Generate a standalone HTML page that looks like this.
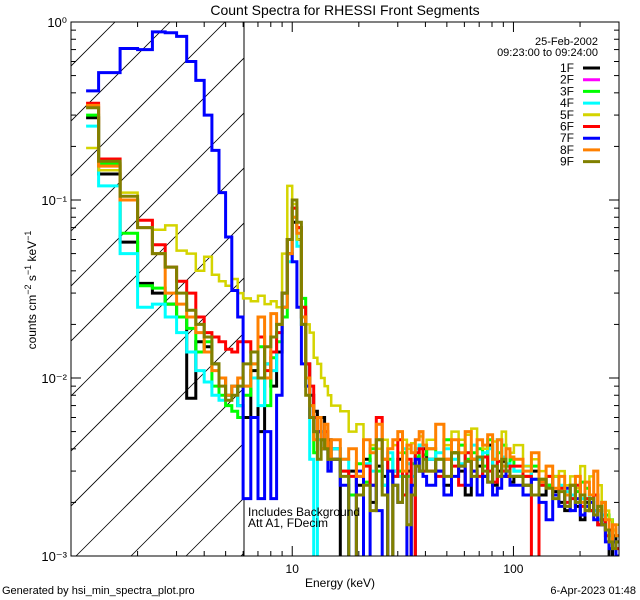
<!DOCTYPE html>
<html><head><meta charset="utf-8"><style>
html,body{margin:0;padding:0;background:#fff;}
svg{display:block;font-family:"Liberation Sans",sans-serif;}
</style></head><body>
<svg id="chart" width="640" height="600" viewBox="0 0 640 600">
<defs><clipPath id="plotclip"><rect x="71" y="22" width="548" height="534"/></clipPath>
<clipPath id="hatchclip"><rect x="71" y="22" width="173" height="534"/></clipPath></defs>
<text x="345" y="15" text-anchor="middle" font-size="14">Count Spectra for RHESSI Front Segments</text>
<g id="hatch" clip-path="url(#hatchclip)"></g>
<line x1="244" y1="22" x2="244" y2="556" stroke="#000" stroke-width="1"/>
<g id="series" clip-path="url(#plotclip)"></g>
<rect x="71" y="22" width="548" height="534" fill="none" stroke="#000" stroke-width="1"/>
<g id="axes"></g>
<text x="340" y="587" text-anchor="middle" font-size="12">Energy (keV)</text>
<text transform="translate(36,290) rotate(-90)" text-anchor="middle" font-size="12">counts cm<tspan dy="-5" font-size="9">−2</tspan><tspan dy="5"> s</tspan><tspan dy="-5" font-size="9">−1</tspan><tspan dy="5"> keV</tspan><tspan dy="-5" font-size="9">−1</tspan></text>
<text x="248" y="516" font-size="12">Includes Background</text>
<text x="248" y="527" font-size="12">Att A1, FDecim</text>
<text x="2" y="594" font-size="11">Generated by hsi_min_spectra_plot.pro</text>
<text x="636" y="594" font-size="11" text-anchor="end">6-Apr-2023 01:48</text>
<text x="598" y="45" font-size="11" text-anchor="end">25-Feb-2002</text>
<text x="598" y="56" font-size="11" text-anchor="end">09:23:00 to 09:24:00</text>
<g id="legend"></g>
</svg>
<script>
const NS="http://www.w3.org/2000/svg";
const edgesLow=[1.17,1.333,1.667,2,2.333,2.667,3,3.333,3.667,4,4.333,4.667,5,5.333,5.667,6,6.5,7,7.5,8,8.5,9,9.5,10,10.5,11,11.5,12,12.5,13,13.5,14,14.5,15];
const edgesHigh=[16.5,18,19.5,21,22.5,24,25.5,27,28.5,30,31.5,33,34.5,36,37.5,39,40.5,44.5,48.5,52.5,56.5,60.5,64.5,68.5,72.5,76.5,80.5,84.5,88.5,92.5,96.5,100.5,110.5,120.5,130.5,140.5,150.5,160.5,170.5,180.5,190.5,200.5,210.5,220.5,230.5,240.5,250.5,260.5,270.5,280.5,290.5,300.5];
const seriesNames=["1F","2F","3F","4F","5F","6F","7F","8F","9F"];
const seriesColors=["#000000","#ff00ff","#00ff00","#00ffff","#d4d400","#ff0000","#0000ff","#ff8000","#808000"];
const s1F=[0.29,0.14,0.058,0.034,0.030,0.026,0.022,0.0077,0.016,0.015,0.012,0.010,0.008,0.009,0.007,
0.006,0.011,0.005,0.012,0.009,0.014,0.025,0.05,0.075,0.06,0.022,0.012,0.008,0.0065,0.005,0.006,0.004,0.0045,
0.004,0.0009,0.003,0.0025,0.0035,0.002,0.0032,0.0028,0.0009,0.003,0.0035,0.0022,0.003,0.0009,0.0036,0.003,0.004,
0.0035,0.003,0.0025,0.0038,0.003,0.0022,0.0035,0.0032,0.0028,0.0042,0.0025,0.003,0.0034,0.0028,0.0026,
0.0028,0.0025,0.003,0.0022,0.0025,0.0023,0.002,0.0018,0.0022,0.0019,0.0016,0.002,0.0018,0.0017,0.0015,0.0016,0.0014,0.0009,0.0013,0.0012];
const s2F=[];
const s3F=[0.30,0.16,0.065,0.033,0.032,0.026,0.022,0.019,0.014,0.016,0.009,0.008,0.007,0.0065,0.006,
0.008,0.012,0.015,0.007,0.013,0.016,0.022,0.06,0.09,0.07,0.028,0.010,0.007,0.0038,0.005,0.004,0.0045,0.004,
0.0035,0.003,0.0022,0.0033,0.0026,0.004,0.003,0.0025,0.0035,0.0028,0.003,0.0038,0.0028,0.0033,0.0036,0.0042,0.0037,
0.004,0.0035,0.0045,0.0038,0.0042,0.0035,0.0038,0.004,0.0032,0.0045,0.0035,0.0038,0.0042,0.0032,0.0035,
0.003,0.0028,0.0032,0.0027,0.0025,0.0028,0.0024,0.0022,0.0025,0.0023,0.0026,0.0024,0.0021,0.0022,0.0018,0.002,0.0017,0.0016,0.0014,0.0013];
const s4F=[0.26,0.12,0.05,0.025,0.026,0.022,0.018,0.014,0.011,0.0095,0.008,0.0075,0.008,0.009,0.007,
0.009,0.010,0.007,0.012,0.011,0.018,0.025,0.045,0.08,0.055,0.02,0.009,0.0035,0.0009,0.0045,0.005,0.004,0.0038,
0.004,0.0035,0.0009,0.0028,0.0033,0.003,0.0045,0.0025,0.0038,0.003,0.0028,0.004,0.0033,0.0028,0.004,0.0042,0.0035,
0.0035,0.0038,0.004,0.0035,0.0033,0.0038,0.0042,0.0035,0.0038,0.004,0.0032,0.0045,0.0036,0.0033,0.0032,
0.003,0.0032,0.0027,0.0025,0.0028,0.0022,0.0025,0.0023,0.0022,0.002,0.0021,0.0019,0.0022,0.0018,0.0016,0.0017,0.0014,0.0013,0.0012,0.0011];
const s5F=[0.196,0.147,0.11,0.077,0.068,0.072,0.052,0.05,0.04,0.048,0.038,0.035,0.033,0.036,0.03,
0.028,0.027,0.029,0.026,0.027,0.025,0.05,0.12,0.095,0.06,0.025,0.02,0.018,0.013,0.012,0.01,0.009,0.008,
0.007,0.0065,0.005,0.0055,0.0045,0.0042,0.004,0.0045,0.004,0.0042,0.0038,0.0045,0.004,0.0043,0.0045,0.0047,0.0042,
0.0045,0.0055,0.0042,0.005,0.0045,0.0048,0.0052,0.0045,0.004,0.0048,0.0044,0.0045,0.005,0.004,0.0038,
0.0042,0.0032,0.0035,0.003,0.0032,0.0028,0.003,0.0025,0.0028,0.0024,0.0032,0.0026,0.0028,0.0022,0.0025,0.002,0.0018,0.0016,0.0014,0.0015];
const s6F=[0.35,0.17,0.10,0.077,0.056,0.042,0.035,0.030,0.022,0.018,0.017,0.016,0.0145,0.014,0.016,
0.016,0.014,0.017,0.011,0.014,0.018,0.03,0.06,0.09,0.07,0.025,0.012,0.009,0.006,0.005,0.0045,0.005,0.004,
0.0035,0.003,0.0028,0.0009,0.0032,0.0025,0.006,0.0035,0.003,0.0028,0.0045,0.0022,0.0035,0.0009,0.0038,0.004,0.003,
0.003,0.0028,0.0035,0.0032,0.0025,0.0038,0.003,0.0028,0.0036,0.003,0.0026,0.0034,0.003,0.0028,0.0032,
0.0032,0.0028,0.0009,0.0025,0.0028,0.0022,0.0024,0.002,0.0021,0.0025,0.0019,0.0021,0.0018,0.0022,0.0015,0.0016,0.0013,0.0014,0.0012,0.0011];
const s7F=[0.41,0.52,0.71,0.70,0.88,0.87,0.83,0.60,0.47,0.30,0.19,0.11,0.062,0.031,0.022,
0.0021,0.006,0.0021,0.005,0.0021,0.008,0.03,0.05,0.045,0.025,0.012,0.009,0.006,0.005,0.005,0.004,0.004,0.003,
0.0035,0.0025,0.0009,0.003,0.0009,0.0025,0.0018,0.0009,0.003,0.0025,0.002,0.0028,0.0009,0.0025,0.0035,0.003,0.0028,
0.0025,0.003,0.0022,0.0028,0.0032,0.0025,0.003,0.0022,0.0028,0.0026,0.0022,0.0024,0.0028,0.003,0.0025,
0.0025,0.0022,0.0027,0.002,0.0016,0.0022,0.0019,0.0024,0.0018,0.0021,0.0017,0.0019,0.002,0.0016,0.0018,0.0015,0.0012,0.0011,0.0012,0.001];
const s8F=[0.34,0.155,0.10,0.07,0.05,0.03,0.026,0.022,0.018,0.014,0.011,0.010,0.008,0.009,0.01,
0.009,0.012,0.022,0.01,0.023,0.02,0.025,0.05,0.08,0.065,0.022,0.010,0.007,0.0045,0.006,0.004,0.0055,0.0035,
0.0045,0.0035,0.004,0.0028,0.0045,0.0038,0.0055,0.0035,0.004,0.0045,0.005,0.003,0.0042,0.0038,0.0045,0.005,0.0042,
0.004,0.0055,0.0035,0.0045,0.0038,0.005,0.0035,0.0045,0.0042,0.0048,0.0035,0.0045,0.0032,0.004,0.0036,
0.0035,0.003,0.0038,0.0026,0.0032,0.0024,0.0028,0.0022,0.0025,0.0028,0.002,0.0026,0.0022,0.003,0.0018,0.002,0.0016,0.0012,0.0015,0.0013];
const s9F=[0.33,0.165,0.105,0.07,0.05,0.042,0.030,0.024,0.02,0.017,0.012,0.009,0.0075,0.008,0.009,
0.012,0.014,0.01,0.015,0.017,0.02,0.03,0.06,0.1,0.075,0.02,0.008,0.006,0.005,0.0035,0.0045,0.004,0.0035,
0.0035,0.0028,0.0009,0.0022,0.0025,0.0018,0.0045,0.0022,0.0009,0.0025,0.002,0.0028,0.0015,0.0022,0.0032,0.003,0.0035,
0.003,0.0035,0.0028,0.0038,0.0032,0.0034,0.0028,0.0036,0.003,0.0026,0.0032,0.0028,0.0035,0.003,0.0028,
0.0028,0.0025,0.0022,0.0027,0.0024,0.0021,0.0023,0.0019,0.0025,0.002,0.0022,0.0018,0.0021,0.0017,0.0019,0.0015,0.0014,0.0012,0.0011,0.0012];
const yTickLabels=["10⁰","10⁻¹","10⁻²","10⁻³"];
const yTickValues=[1,0.1,0.01,0.001];
const xTickLabels=["10","100"];
const xTickValues=[10,100];

const X0=71,X1=619,Y0=22,Y1=556;
const XMIN=1,XMAX=300,YMIN=0.001,YMAX=1;
function xs(e){return X0+(Math.log10(e)-Math.log10(XMIN))/(Math.log10(XMAX)-Math.log10(XMIN))*(X1-X0);}
function ys(v){return Y0+(Math.log10(YMAX)-Math.log10(v))/(Math.log10(YMAX)-Math.log10(YMIN))*(Y1-Y0);}
function mk(tag,attrs,parent){const el=document.createElementNS(NS,tag);for(const k in attrs)el.setAttribute(k,attrs[k]);parent.appendChild(el);return el;}

const edges=edgesLow.concat(edgesHigh);
// hatch
const hatch=document.getElementById('hatch');
for(let k=-600;k<300;k+=55){
  const l=mk('line',{x1:X0+k,y1:Y1,x2:X0+k+600,y2:Y1-600,stroke:'#000','stroke-width':0.8},hatch);
  
  
}
// series
const allSeries=[s1F,s2F,s3F,s4F,s5F,s6F,s7F,s8F,s9F];
const sg=document.getElementById('series');
allSeries.forEach((vals,i)=>{
  if(!vals.length)return;
  let d='';
  for(let j=0;j<vals.length;j++){
    const xa=xs(edges[j]).toFixed(1),xb=xs(edges[j+1]).toFixed(1),y=ys(Math.max(vals[j],0.0004)).toFixed(1);
    d+=(j===0?'M':'L')+xa+','+y+'L'+xb+','+y;
  }
  const p=mk('path',{d:d,fill:'none',stroke:seriesColors[i],'stroke-width':i===4?2.5:3,'stroke-linejoin':'miter'},sg);
  
  
});
// axes
const ax=document.getElementById('axes');
for(let dec=-3;dec<0;dec++){
  for(let m=1;m<10;m++){
    const v=m*Math.pow(10,dec);const y=ys(v);const len=m===1?10:5;
    mk('line',{x1:X0,y1:y,x2:X0+len,y2:y,stroke:'#000'},ax);
    mk('line',{x1:X1,y1:y,x2:X1-len,y2:y,stroke:'#000'},ax);
  }
}
yTickValues.forEach((v,i)=>{
  const t=mk('text',{x:X0-4,y:ys(v)+5,'text-anchor':'end','font-size':13},ax);
  t.textContent=yTickLabels[i];
  
  
});
for(let dec=0;dec<3;dec++){
  for(let m=1;m<10;m++){
    const e=m*Math.pow(10,dec);if(e<XMIN||e>XMAX)continue;const x=xs(e);const len=m===1?10:5;
    mk('line',{x1:x,y1:Y1,x2:x,y2:Y1-len,stroke:'#000'},ax);
    mk('line',{x1:x,y1:Y0,x2:x,y2:Y0+len,stroke:'#000'},ax);
  }
}
xTickValues.forEach((v,i)=>{
  const t=mk('text',{x:xs(v),y:573,'text-anchor':'middle','font-size':12},ax);
  t.textContent=xTickLabels[i];
  
  
});
// legend
const lg=document.getElementById('legend');
seriesNames.forEach((n,i)=>{
  const y=68+i*11.7;
  const t=mk('text',{x:574,y:y+4,'text-anchor':'end','font-size':12},lg);
  t.textContent=n;
  
  
  const l=mk('line',{x1:583,y1:y,x2:600,y2:y,stroke:seriesColors[i],'stroke-width':3},lg);
  
  
});
</script>
</body></html>
